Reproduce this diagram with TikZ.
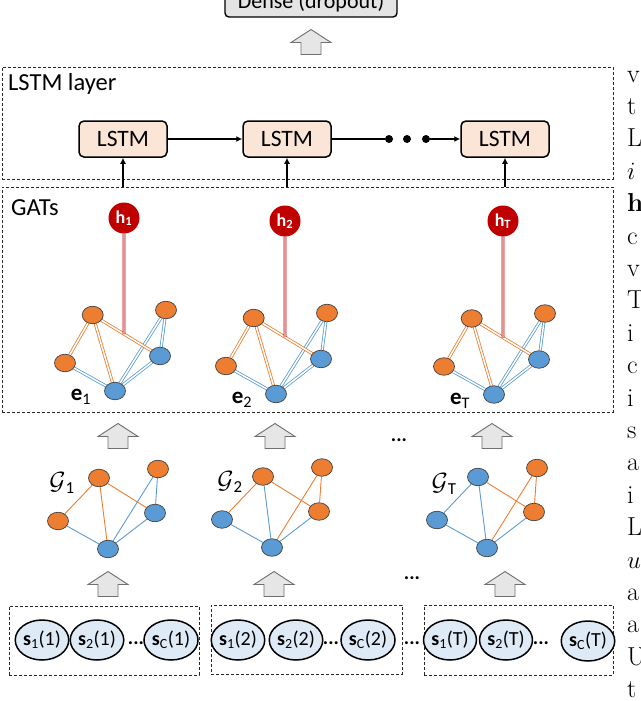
\documentclass[tikz,border=0pt]{standalone}
\usepackage{fontspec}
\newfontfamily\carl{Carlito}
\usetikzlibrary{shapes.geometric,arrows.meta,calc,backgrounds}
\definecolor{myorange}{HTML}{ED7D31}
\definecolor{myblue}{HTML}{5B9BD5}
\definecolor{hred}{HTML}{C00000}
\definecolor{lstmfill}{HTML}{FBE5D6}
\definecolor{sfill}{HTML}{DEEBF7}
\definecolor{densefill}{HTML}{E4E4E4}
\definecolor{arrowfill}{HTML}{E7E6E6}
\definecolor{arrowdraw}{HTML}{6F6F6F}
\newcommand\fsz[1]{\fontsize{#1}{#1}\selectfont}
\tikzset{
  gnode/.style={ellipse, draw=black!75, line width=0.7pt, minimum width=21pt, minimum height=17.5pt, inner sep=0pt},
  onode/.style={gnode, fill=myorange},
  bnode/.style={gnode, fill=myblue},
  oe/.style={draw=myorange, line width=0.8pt, double=white, double distance=1.5pt},
  be/.style={draw=myblue, line width=0.8pt, double=white, double distance=1.5pt},
  ol/.style={draw=myorange, line width=0.9pt},
  bl/.style={draw=myblue, line width=0.9pt},
  hl/.style={draw=hred, line width=0.8pt, double=hred!12, double distance=1.3pt},
  hnode/.style={circle, fill=hred, minimum size=31pt, inner sep=0pt, text=white, font=\carl\bfseries\fsz{18}},
  snode/.style={ellipse, draw=black, line width=1.5pt, fill=sfill, minimum width=44pt, minimum height=40pt, inner sep=0pt, font=\carl\fsz{20}},
  dbox/.style={draw=black!85, line width=0.8pt, dash pattern=on 3pt off 2pt, inner sep=0pt, outer sep=0pt},
  lbl/.style={font=\carl\fsz{24.5}, inner sep=0pt},
  elbl/.style={font=\carl\fsz{23}, inner sep=0pt},
  glbl/.style={font=\carl\fsz{24}, inner sep=0pt},
  dotsl/.style={font=\carl\bfseries\fsz{20}, inner sep=0pt},
  lstm/.style={draw=black, line width=1.5pt, rounded corners=5pt, fill=lstmfill, minimum width=88pt, minimum height=36pt, font=\carl\fsz{23.5}},
  densebox/.style={draw=black, line width=1.4pt, rounded corners=4pt, fill=densefill, minimum width=172pt, text height=14pt, text depth=8pt, inner ysep=0pt, font=\carl\fsz{22}},
  dotn/.style={circle, fill=black, inner sep=0pt, minimum size=8pt},
  conn/.style={draw=black, line width=1.3pt, -{Latex[length=6pt,width=6pt]}},
  fatup/.pic={\draw[fill=arrowfill, draw=arrowdraw, line width=0.9pt, line join=miter]
     (-10,12.5) -- (-10,0.5) -- (-20,0.5) -- (0,-12.5) -- (20,0.5) -- (10,0.5) -- (10,12.5) -- cycle;}
}
\newcommand\gatgraph[5]{%
  \begin{scope}[shift={#2}]
    \node[onode] (#1A) at (92.7,315) {};
    \node[onode] (#1B) at (65,363) {};
    \node[bnode] (#1C) at (115,391) {};
    \node[bnode] (#1D) at (160,356) {};
    \node[onode] (#1E) at (166,310) {};
    \coordinate (#1a) at ($(#1A)!0.465!(#1D)$);
    \node[hnode] (#1h) at (124,#5) {#3};
    \node[elbl] (#1e) at (81,397) {#4};
  \end{scope}
  \begin{scope}[on background layer]
    \draw[oe] (#1A) -- (#1B);
    \draw[oe] (#1A) -- (#1C);
    \draw[be] (#1B) -- (#1C);
    \draw[be] (#1C) -- (#1E);
    \draw[be] (#1C) -- (#1D);
    \draw[be] (#1D) -- (#1E);
    \draw[oe] (#1A) -- (#1D);
    \draw[hl] (#1h) -- (#1a);
  \end{scope}}
\begin{document}
\begin{tikzpicture}[x=1pt,y=-1pt]
\useasboundingbox (0,0) rectangle (640,701);
\clip (0,0) rectangle (640,701);

% Dense
\node[densebox, anchor=base] (dense) at (311,9) {Dense (dropout)};
\pic at (311,42) {fatup};

% LSTM layer
\node[dbox, anchor=north west, minimum width=611pt, minimum height=112pt] (lstmlayer) at (2,67) {};
\node[lbl, anchor=base west] (lstmlbl) at (8,90) {LSTM layer};
\node[lstm] (L1) at (123,139) {LSTM};
\node[lstm] (L2) at (287,139) {LSTM};
\node[lstm] (L3) at (505,139) {LSTM};
\node[dotn] (d1) at (389,139) {};
\node[dotn] (d2) at (407,139) {};
\node[dotn] (d3) at (426,139) {};
\draw[conn] (L1) -- (L2);
\draw[line width=1.3pt] (L2) -- (d1);
\draw[conn] (d3) -- (L3);

% GATs
\node[dbox, anchor=north west, minimum width=611pt, minimum height=225pt] (gats) at (2,187) {};
\node[lbl, anchor=base west] (gatslbl) at (11,215) {GATs};
\draw[conn] (gats.north -| L1) -- (L1);
\draw[conn] (gats.north -| L2) -- (L2);
\draw[conn] (gats.north -| L3) -- (L3);

\gatgraph{ga}{(0,0)}{h\textsubscript{1}}{\textbf{e}\textsubscript{1}}{218}
\gatgraph{gb}{(161,3)}{h\textsubscript{2}}{\textbf{e}\textsubscript{2}}{218}
\gatgraph{gc}{(379,3.5)}{h\textsubscript{T}}{\textbf{e}\textsubscript{T}}{217.5}

% arrows GAT <- G
\pic at (118,436) {fatup};
\pic at (275,436) {fatup};
\pic at (492,436) {fatup};
\node[dotsl] (dotsmid) at (399,440) {...};

% G graphs
\node[onode] (G1A) at (99,478) {};
\node[onode] (G1B) at (58,521) {};
\node[bnode] (G1C) at (108,549) {};
\node[bnode] (G1D) at (155,513) {};
\node[onode] (G1E) at (158,469) {};
\node[glbl] (G1l) at (62,483) {$\mathcal{G}$\textsubscript{1}};
\begin{scope}[on background layer]
  \draw[ol] (G1A) -- (G1B);
  \draw[ol] (G1A) -- (G1C);
  \draw[ol] (G1A) -- (G1D);
  \draw[bl] (G1B) -- (G1C);
  \draw[bl] (G1C) -- (G1E);
  \draw[bl] (G1C) -- (G1D);
  \draw[bl] (G1D) -- (G1E);
\end{scope}

\begin{scope}[shift={(164,-1.5)}]
\node[onode] (G2A) at (99,478) {};
\node[bnode] (G2B) at (58,521) {};
\node[bnode] (G2C) at (108,549) {};
\node[onode] (G2D) at (155,513) {};
\node[onode] (G2E) at (158,469) {};
\end{scope}
\node[glbl] (G2l) at (230,482) {$\mathcal{G}$\textsubscript{2}};
\begin{scope}[on background layer]
  \draw[ol] (G2A) -- (G2B);
  \draw[bl] (G2A) -- (G2C);
  \draw[ol] (G2A) -- (G2D);
  \draw[bl] (G2B) -- (G2C);
  \draw[ol] (G2C) -- (G2E);
  \draw[bl] (G2C) -- (G2D);
  \draw[ol] (G2D) -- (G2E);
\end{scope}

\begin{scope}[shift={(379,-1)}]
\node[bnode] (GTA) at (99,478) {};
\node[bnode] (GTB) at (58,521) {};
\node[bnode] (GTC) at (108,549) {};
\node[onode] (GTD) at (155,513) {};
\node[onode] (GTE) at (158,469) {};
\end{scope}
\node[glbl] (GTl) at (444,484) {$\mathcal{G}$\textsubscript{T}};
\begin{scope}[on background layer]
  \draw[bl] (GTA) -- (GTB);
  \draw[bl] (GTA) -- (GTC);
  \draw[ol] (GTA) -- (GTD);
  \draw[bl] (GTB) -- (GTC);
  \draw[ol] (GTC) -- (GTE);
  \draw[bl] (GTC) -- (GTD);
  \draw[ol] (GTD) -- (GTE);
\end{scope}

% arrows G <- inputs
\pic at (108,584) {fatup};
\pic at (274,584) {fatup};
\pic at (505,584) {fatup};
\node[dotsl] (dotslow) at (412,578) {...};

% input boxes
\node[dbox, anchor=north west, minimum width=190pt, minimum height=69pt] (box1) at (9,606) {};
\node[dbox, anchor=north west, minimum width=191pt, minimum height=69pt] (box2) at (211,605) {};
\node[dbox, anchor=north west, minimum width=189pt, minimum height=70pt] (box3) at (424,605) {};

\node[snode] (s11) at (42,640) {\textbf{s}\textsubscript{1}(1)};
\node[snode] (s21) at (97,640) {\textbf{s}\textsubscript{2}(1)};
\node[snode] (sc1) at (171,640) {\textbf{s}\textsubscript{C}(1)};
\node[dotsl] (dd1) at (136,643) {...};

\node[snode] (s12) at (238,640) {\textbf{s}\textsubscript{1}(2)};
\node[snode] (s22) at (296,640) {\textbf{s}\textsubscript{2}(2)};
\node[snode] (sc2) at (368,640) {\textbf{s}\textsubscript{C}(2)};
\node[dotsl] (dd2) at (331,643) {...};

\node[dotsl] (ddm) at (412,643) {...};

\node[snode] (s1T) at (450,640) {\textbf{s}\textsubscript{1}(T)};
\node[snode] (s2T) at (506,640) {\textbf{s}\textsubscript{2}(T)};
\node[snode] (scT) at (588,641) {\textbf{s}\textsubscript{C}(T)};
\node[dotsl] (dd3) at (541,643) {...};

% fragment of the page text at the right edge
\foreach \t [count=\n from 0] in {v,t,L,$i$,\textbf{h},c,v,T,i,c,i,s,a,i,L,$u$,a,a,U,t}
  \node[anchor=base west, inner sep=0pt, font=\fsz{26}] (r\n) at (627,{82+32.4*\n}) {\t};
\end{tikzpicture}
\end{document}
